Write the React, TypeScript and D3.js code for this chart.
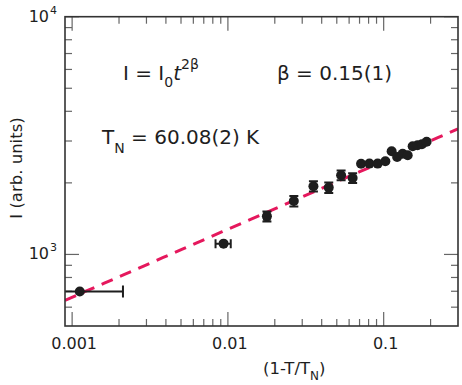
import React from 'react';
import * as d3 from 'd3';

// reduced temperature t = 1 - T/TN and integrated intensity
const reducedTemp = [0.00112, 0.00938, 0.0178, 0.0265, 0.0354, 0.0444, 0.0533, 0.0632, 0.0716, 0.081,
  0.0915, 0.1025, 0.1125, 0.122, 0.1324, 0.1426, 0.1535, 0.165, 0.176, 0.1887];
const intensity = [698, 1110, 1446, 1677, 1935, 1910, 2153, 2097, 2407, 2410,
  2410, 2466, 2717, 2571, 2652, 2612, 2851, 2877, 2908, 2979];
const tErr = [0.001, 0.00105, 0.0007, 0, 0, 0, 0, 0, 0, 0, 0, 0, 0, 0, 0, 0, 0, 0, 0, 0];
const iErr = [0, 0, 70, 85, 95, 95, 100, 100, 0, 0, 0, 0, 0, 0, 0, 0, 0, 0, 0, 0];

// power-law fit I = I0 t^(2beta), as drawn
const fitI0 = 4765;
const fitExponent = 0.286;
const fitRange = [0.0009, 0.3];

const xMajor = [0.001, 0.01, 0.1];
const xMajorLabels = ['0.001', '0.01', '0.1'];
const yMajor = [1000, 10000];
const yMajorExp = ['3', '4'];

const W = 462;
const H = 385;
const left = 65;
const right = 458;
const top = 16.7;
const bottom = 326;
const font = '"DejaVu Sans", sans-serif';
const ink = '#1e1e1e';

export default function App() {
  const x = d3.scaleLog().domain([0.0009, 0.3]).range([left, right]);
  const y = d3.scaleLog().domain([500, 10000]).range([bottom, top]);

  const xMinor: number[] = [];
  [0.0001, 0.001, 0.01, 0.1].forEach(d => {
    for (let k = 2; k <= 9; k++) {
      const v = d * k;
      if (v > 0.00091 && v < 0.3) xMinor.push(v);
    }
  });
  const yMinor: number[] = [];
  [100, 1000].forEach(d => {
    for (let k = 2; k <= 9; k++) {
      const v = d * k;
      if (v > 500 && v < 10000) yMinor.push(v);
    }
  });

  const fitLine = d3.line<number>()
    .x(t => x(t))
    .y(t => y(fitI0 * Math.pow(t, fitExponent)));
  const fitPts = d3.range(0, 21).map(i =>
    Math.exp(Math.log(fitRange[0]) + (Math.log(fitRange[1]) - Math.log(fitRange[0])) * i / 20));

  const majorLen = 14;
  const minorLen = 7;
  const tickColor = '#666';

  return (
    <svg width={W} height={H} style={{ position: 'absolute', left: 0, top: 0, background: '#fff' }}>
      <defs>
        <clipPath id="plot">
          <rect x={left} y={top} width={right - left} height={bottom - top} />
        </clipPath>
      </defs>

      {/* ticks on all four sides, pointing inward */}
      <g stroke={tickColor} strokeWidth={1.2}>
        {xMajor.map(v => (
          <g key={'xM' + v}>
            <line x1={x(v)} x2={x(v)} y1={bottom} y2={bottom - majorLen} />
            <line x1={x(v)} x2={x(v)} y1={top} y2={top + majorLen} />
          </g>
        ))}
        {xMinor.map(v => (
          <g key={'xm' + v}>
            <line x1={x(v)} x2={x(v)} y1={bottom} y2={bottom - minorLen} />
            <line x1={x(v)} x2={x(v)} y1={top} y2={top + minorLen} />
          </g>
        ))}
        {yMajor.map(v => (
          <g key={'yM' + v}>
            <line x1={left} x2={left + majorLen} y1={y(v)} y2={y(v)} />
            <line x1={right} x2={right - majorLen} y1={y(v)} y2={y(v)} />
          </g>
        ))}
        {yMinor.map(v => (
          <g key={'ym' + v}>
            <line x1={left} x2={left + minorLen} y1={y(v)} y2={y(v)} />
            <line x1={right} x2={right - minorLen} y1={y(v)} y2={y(v)} />
          </g>
        ))}
      </g>

      {/* fit */}
      <path d={fitLine(fitPts) || ''} fill="none" stroke="#e5185d" strokeWidth={3}
        strokeDasharray="12,8" clipPath="url(#plot)" />

      {/* data with error bars */}
      <g clipPath="url(#plot)">
        {reducedTemp.map((t, i) => {
          const cx = x(t);
          const cy = y(intensity[i]);
          const parts = [];
          if (tErr[i] > 0) {
            const x0 = x(Math.max(t - tErr[i], 0.00001));
            const x1 = x(t + tErr[i]);
            const cap = i === 0 ? 6 : 4.5;
            parts.push(<line key="h" x1={x0} x2={x1} y1={cy} y2={cy} stroke={ink} strokeWidth={2} />);
            parts.push(<line key="hc1" x1={x1} x2={x1} y1={cy - cap} y2={cy + cap} stroke={ink} strokeWidth={2} />);
            parts.push(<line key="hc0" x1={x0} x2={x0} y1={cy - cap} y2={cy + cap} stroke={ink} strokeWidth={2} />);
          }
          if (iErr[i] > 0) {
            const y0 = y(intensity[i] - iErr[i]);
            const y1 = y(intensity[i] + iErr[i]);
            parts.push(<line key="v" x1={cx} x2={cx} y1={y0} y2={y1} stroke={ink} strokeWidth={2} />);
            parts.push(<line key="vc0" x1={cx - 4.5} x2={cx + 4.5} y1={y0} y2={y0} stroke={ink} strokeWidth={2} />);
            parts.push(<line key="vc1" x1={cx - 4.5} x2={cx + 4.5} y1={y1} y2={y1} stroke={ink} strokeWidth={2} />);
          }
          return (
            <g key={i}>
              {parts}
              <circle cx={cx} cy={cy} r={5} fill={ink} />
            </g>
          );
        })}
      </g>

      {/* frame */}
      <rect x={left} y={top} width={right - left} height={bottom - top} fill="none" stroke="#333" strokeWidth={1.6} />

      {/* tick labels */}
      <g fontFamily={font} fontSize={16} fill={ink}>
        {xMajor.map((v, i) => (
          <text key={'xl' + v} x={x(v) + 2} y={349} textAnchor="middle">{xMajorLabels[i]}</text>
        ))}
        {yMajor.map(v => (
          <text key={'yl' + v} x={49} y={y(v) + 5} textAnchor="end">10</text>
        ))}
        {yMajor.map((v, i) => (
          <text key={'ye' + v} x={50} y={y(v) - 3} fontSize={11}>{yMajorExp[i]}</text>
        ))}
      </g>

      {/* axis titles */}
      <text x={0} y={0} transform={`translate(22,168) rotate(-90)`} textAnchor="middle"
        fontFamily={font} fontSize={16.5} fill={ink}>I (arb. units)</text>
      <text x={263} y={374} fontFamily={font} fontSize={16.5} fill={ink}>
        (1-T/T<tspan fontSize={12} dy={6}>N</tspan><tspan dy={-6}>)</tspan>
      </text>

      {/* annotations */}
      <g fontFamily={font} fontSize={20} fill={ink}>
        <text x={123} y={79.5}>
          I = I<tspan fontSize={14} dy={7}>0</tspan><tspan fontStyle="italic" dy={-7}>t</tspan>
          <tspan fontSize={14} dy={-11}>2β</tspan>
        </text>
        <text x={277} y={80}>β = 0.15(1)</text>
        <text x={102} y={143.5}>
          T<tspan fontSize={14} dy={9}>N</tspan><tspan dy={-9}> = 60.08(2) K</tspan>
        </text>
      </g>
    </svg>
  );
}
